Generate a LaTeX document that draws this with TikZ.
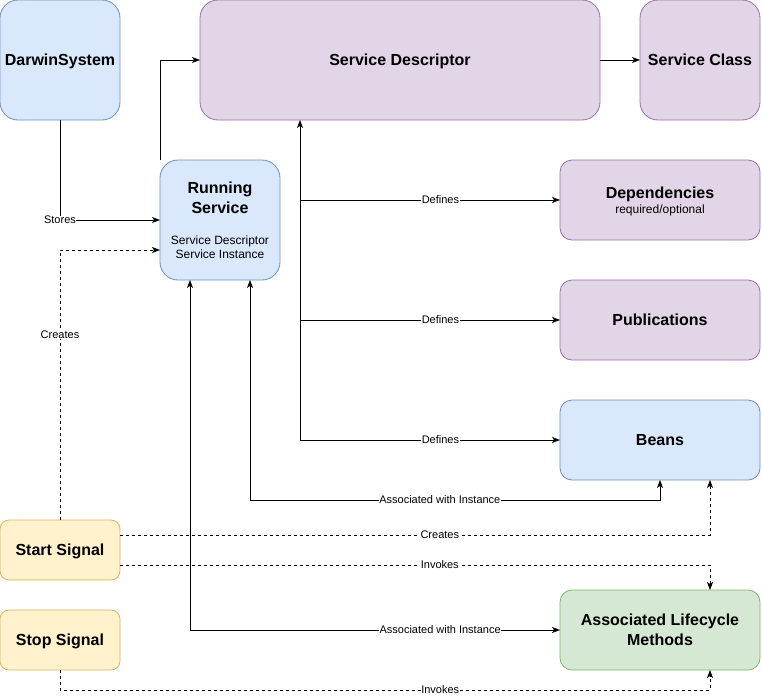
\documentclass[tikz,border=0pt]{standalone}
\usepackage{fontspec}
\setmainfont{Liberation Sans}
\usetikzlibrary{arrows.meta}
\definecolor{bfill}{HTML}{DAE8FC}\definecolor{bline}{HTML}{6C8EBF}
\definecolor{pfill}{HTML}{E1D5E7}\definecolor{pline}{HTML}{9673A6}
\definecolor{yfill}{HTML}{FFF2CC}\definecolor{yline}{HTML}{D6B656}
\definecolor{gfill}{HTML}{D5E8D4}\definecolor{gline}{HTML}{82B366}
\tikzset{
  box/.style={draw, rectangle, line width=0.8pt, anchor=north west, align=center, inner sep=2pt,
    outer sep=0pt, text depth=0pt, font=\fontsize{16}{20}\selectfont\bfseries},
  bluebox/.style={box, fill=bfill, draw=bline},
  purplebox/.style={box, fill=pfill, draw=pline},
  yellowbox/.style={box, fill=yfill, draw=yline},
  greenbox/.style={box, fill=gfill, draw=gline},
  arr/.style={line width=0.8pt, -{Stealth[length=8pt,width=6pt,inset=2pt]}},
  arrboth/.style={line width=0.8pt, {Stealth[length=8pt,width=6pt,inset=2pt]}-{Stealth[length=8pt,width=6pt,inset=2pt]}},
  dsh/.style={dash pattern=on 3pt off 3pt},
  lbl/.style={fill=white, inner sep=0.5pt, font=\fontsize{11}{13}\selectfont}
}
\begin{document}
\begin{tikzpicture}[x=1pt,y=-1pt]
\useasboundingbox (0,0) rectangle (762,699);
\fill[white] (0,0) rectangle (762,699);
% nodes
\node[bluebox, rounded corners=18pt, minimum width=120pt, minimum height=120pt] (ds) at (0,0) {DarwinSystem};
\node[purplebox, rounded corners=18pt, minimum width=400pt, minimum height=120pt] (sd) at (200,0) {Service Descriptor};
\node[purplebox, rounded corners=18pt, minimum width=120pt, minimum height=120pt] (sc) at (640,0) {Service Class};
\node[bluebox, rounded corners=18pt, minimum width=120pt, minimum height=120pt] (rs) at (160,160)
  {Running\\Service\\[11pt]{\fontsize{12}{14}\selectfont\mdseries Service Descriptor}\\[-6pt]{\fontsize{12}{14}\selectfont\mdseries Service Instance}};
\node[purplebox, rounded corners=12pt, minimum width=200pt, minimum height=80pt] (dep) at (560,160)
  {Dependencies\\[-5pt]{\fontsize{12}{14}\selectfont\mdseries required/optional}};
\node[purplebox, rounded corners=12pt, minimum width=200pt, minimum height=80pt] (pub) at (560,280) {Publications};
\node[bluebox, rounded corners=12pt, minimum width=200pt, minimum height=80pt] (bn) at (560,400) {Beans};
\node[yellowbox, rounded corners=9pt, minimum width=120pt, minimum height=60pt] (ss) at (0,520) {Start Signal};
\node[yellowbox, rounded corners=9pt, minimum width=120pt, minimum height=60pt] (st) at (0,610) {Stop Signal};
\node[greenbox, rounded corners=12pt, minimum width=200pt, minimum height=80pt] (lc) at (560,590) {Associated Lifecycle\\Methods};
% coordinates
\coordinate (rsin2) at (160,250);
\coordinate (sdb) at (300,120);
\coordinate (trunk) at (300,440);
\coordinate (rsb1) at (190,280);
\coordinate (rsb2) at (250,280);
\coordinate (bnb1) at (660,480);
\coordinate (bnb2) at (710,480);
\coordinate (lct) at (710,590);
\coordinate (lcb) at (710,670);
\coordinate (ssr1) at (120,535);
\coordinate (ssr2) at (120,565);
% edges
\draw[arr] (rs.north west) |- (sd.west);
\draw[arr] (sd.east) -- (sc.west);
\draw[arr] (ds.south) |- node[lbl, pos=0.5]{Stores} (rs.west);
\draw[arr, dsh] (ss.north) |- node[lbl, pos=0.343]{Creates} (rsin2);
\draw[arr] (trunk) -- (sdb);
\draw[arr] (sdb |- dep.west) -- node[lbl, pos=0.54]{Defines} (dep.west);
\draw[arr] (sdb |- pub.west) -- node[lbl, pos=0.54]{Defines} (pub.west);
\draw[arr] (trunk) -- node[lbl, pos=0.54]{Defines} (bn.west);
\draw[arrboth] (rsb2) -- (250,500) -- node[lbl, pos=0.463]{Associated with Instance} (660,500) -- (bnb1);
\draw[arrboth] (rsb1) |- node[lbl, pos=0.838]{Associated with Instance} (lc.west);
\draw[arr, dsh] (ssr1) -- node[lbl, pos=0.542]{Creates} (710,535) -- (bnb2);
\draw[arr, dsh] (ssr2) -- node[lbl, pos=0.542]{Invokes} (710,565) -- (lct);
\draw[arr, dsh] (st.south) -- (60,690) -- node[lbl, pos=0.585]{Invokes} (710,690) -- (lcb);
\end{tikzpicture}
\end{document}
